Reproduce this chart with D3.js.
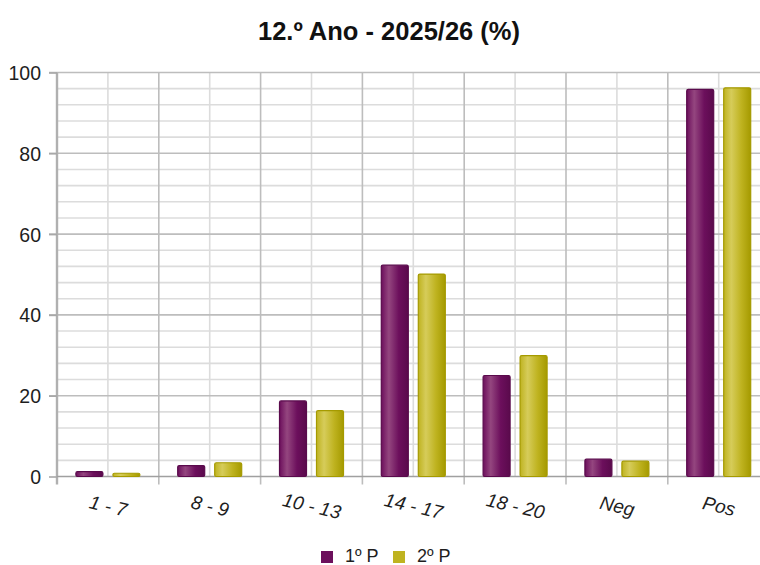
<!DOCTYPE html>
<html><head><meta charset="utf-8">
<script src="https://cdn.jsdelivr.net/npm/d3@7"></script>
<style>body{margin:0;background:#fff;overflow:hidden}svg{display:block;font-family:"Liberation Sans",Arial,sans-serif}</style>
</head><body><svg id="c" width="760" height="565"></svg>
<script>
const title = "12.º Ano - 2025/26 (%)";
const categories = ["1 - 7","8 - 9","10 - 13","14 - 17","18 - 20","Neg","Pos"];
const seriesNames = ["1º P","2º P"];
const p1 = [1.2, 2.7, 18.7, 52.3, 25.0, 4.3, 95.8];
const p2 = [0.8, 3.4, 16.3, 50.1, 29.9, 3.8, 96.2];
const yTicks = [0,20,40,60,80,100];

const colors = [{base:"#6c0f5c",light:"#94467f",edge:"#5a0a4c"},{base:"#bfb320",light:"#d6cc5a",edge:"#a59a00"}];
const svg = d3.select("#c");
const L=57, T=72.5, B=476.5, catW=101.8;
const x = d3.scaleBand().domain(categories).range([L, L+catW*categories.length]);
const y = d3.scaleLinear().domain([0,100]).range([B,T]);

const defs = svg.append("defs");
colors.forEach((c,i)=>{
  const g = defs.append("linearGradient").attr("id","g"+i).attr("x1","0").attr("x2","1").attr("y1","0").attr("y2","0");
  g.append("stop").attr("offset","0%").attr("stop-color",c.base);
  g.append("stop").attr("offset","28%").attr("stop-color",c.light);
  g.append("stop").attr("offset","65%").attr("stop-color",c.base);
  g.append("stop").attr("offset","100%").attr("stop-color",c.edge);
});

// minor horizontal grid
const minor = d3.range(4,100,4).filter(v=>v%20!==0);
svg.append("g").selectAll("line").data(minor).join("line")
  .attr("x1",L).attr("x2",760).attr("y1",d=>y(d)).attr("y2",d=>y(d))
  .attr("stroke","#dcdcdc").attr("stroke-width",1.6);
// vertical grid mid-category
svg.append("g").selectAll("line").data(categories).join("line")
  .attr("x1",d=>x(d)+x.bandwidth()/2).attr("x2",d=>x(d)+x.bandwidth()/2)
  .attr("y1",T).attr("y2",B).attr("stroke","#dcdcdc").attr("stroke-width",1.6);
// vertical category boundaries
svg.append("g").selectAll("line").data(categories.slice(1)).join("line")
  .attr("x1",d=>x(d)).attr("x2",d=>x(d)).attr("y1",T).attr("y2",B+8)
  .attr("stroke","#bdbdbd").attr("stroke-width",1.6);
// major horizontal grid
svg.append("g").selectAll("line").data(yTicks.slice(1)).join("line")
  .attr("x1",L-8).attr("x2",760).attr("y1",d=>y(d)).attr("y2",d=>y(d))
  .attr("stroke","#bdbdbd").attr("stroke-width",1.6);

// y axis
const ya = svg.append("g").attr("transform",`translate(${L},0)`)
  .call(d3.axisLeft(y).tickValues(yTicks).tickSize(8).tickPadding(7));
ya.select(".domain").attr("stroke","#b0b0b0").attr("stroke-width",2.4).attr("d",`M0,${T}V${B+8}`);
ya.selectAll(".tick line").attr("stroke","#a8a8a8").attr("stroke-width",1.6);
ya.selectAll("text").attr("font-size",19.5).attr("fill","#1e1e1e").attr("dy","0.36em").attr("x",-16);

// x axis
const xa = svg.append("g").attr("transform",`translate(0,${B})`)
  .call(d3.axisBottom(x).tickSize(0).tickPadding(0));
xa.select(".domain").attr("stroke","#a0a0a0").attr("stroke-width",1.6).attr("d",`M${L},0H760`);
xa.selectAll(".tick text").attr("font-size",19).attr("font-style","italic").attr("fill","#1e1e1e")
  .attr("y",0).attr("dy",0).attr("transform","translate(0,31) rotate(13)").attr("text-anchor","middle").attr("dominant-baseline","middle");

// bars
const bw = 27, off = 18.5;
[p1,p2].forEach((vals,i)=>{
  svg.append("g").selectAll("rect").data(categories).join("rect")
    .attr("x",(d)=>x(d)+x.bandwidth()/2+(i===0?-off:off)-bw/2)
    .attr("width",bw)
    .attr("y",(d,j)=>y(vals[j]))
    .attr("height",(d,j)=>B-y(vals[j]))
    .attr("rx",1.5)
    .attr("fill",`url(#g${i})`).attr("stroke",colors[i].edge).attr("stroke-width",1.2);
});

// title
svg.append("text").attr("x",389).attr("y",40).attr("text-anchor","middle")
  .attr("font-size",25.5).attr("font-weight","bold").attr("fill","#111").text(title);

// legend
const lg = svg.append("g");
const lx=[321,393];
seriesNames.forEach((s,i)=>{
  lg.append("rect").attr("x",lx[i]).attr("y",551).attr("width",12).attr("height",12).attr("fill",colors[i].base);
  lg.append("text").attr("x",lx[i]+24).attr("y",562).attr("font-size",18).attr("fill","#1e1e1e").text(s);
});
</script></body></html>
